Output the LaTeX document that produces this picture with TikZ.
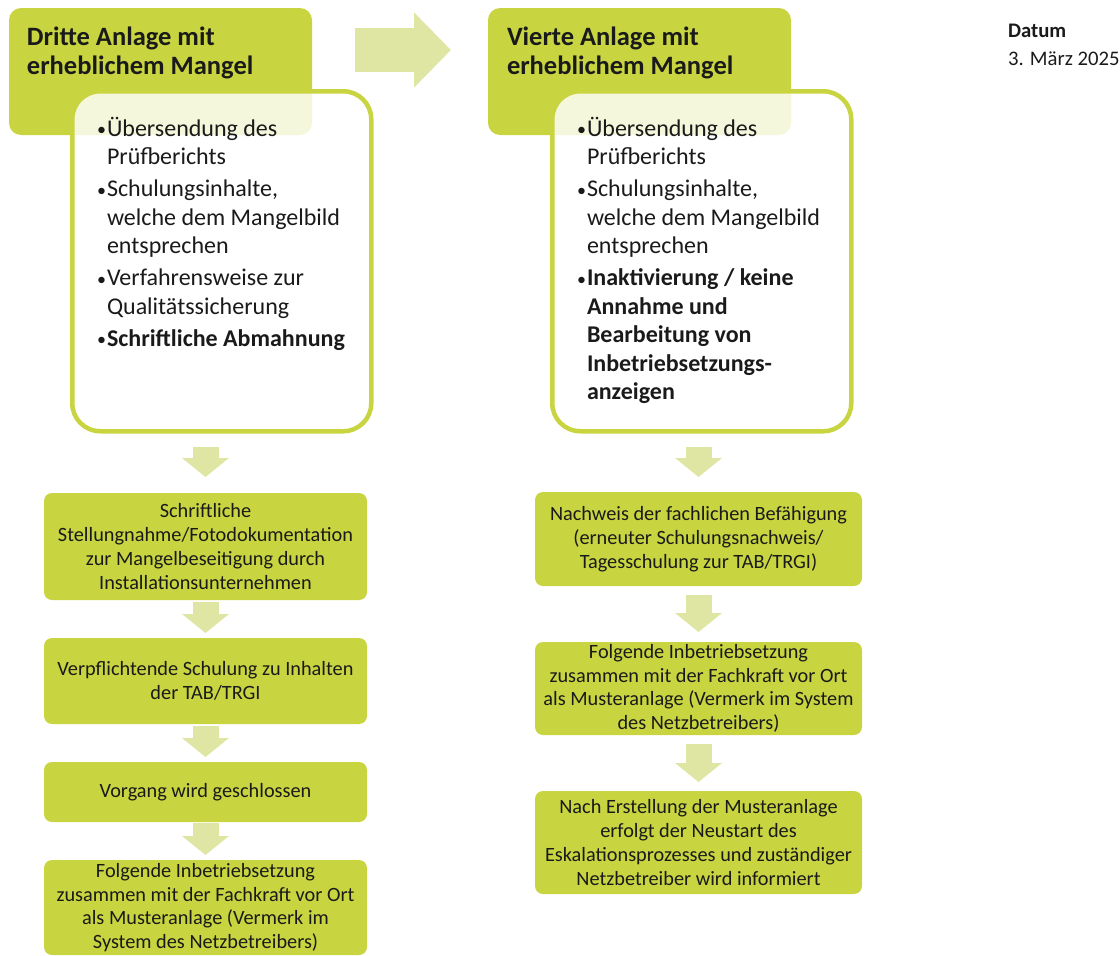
\documentclass[tikz,border=0pt]{standalone}
\usepackage{fontspec}
\setmainfont{Carlito}
\usetikzlibrary{arrows.meta,calc,positioning}

\definecolor{lime}{RGB}{200,213,64}
\definecolor{palelime}{RGB}{223,230,164}
\definecolor{ink}{RGB}{26,26,26}
\newcommand{\bitem}{\par\spaceskip=0pt\xspaceskip=0pt\hangindent=10pt\hangafter=1\noindent
  \makebox[10pt][l]{\raisebox{0.5pt}{\fontsize{18}{18}\selectfont\textbullet}}}

\begin{document}
\begin{tikzpicture}[x=1pt, y=1pt,
  every node/.style = {inner sep = 0, outer sep = 0, text = ink},
  head/.style = {rectangle, rounded corners = 12pt, fill = lime,
    minimum width = 303, minimum height = 127, anchor = north west},
  panel/.style = {rectangle, rounded corners = 28pt, draw = lime, line width = 4.5pt,
    fill = white, fill opacity = 0.82, minimum width = 299, minimum height = 340,
    anchor = north west},
  headtext/.style = {anchor = north west, align = left,
    font = \bfseries\fontsize{26.5}{29}\selectfont},
  bullets/.style = {anchor = north west, text width = 268,
    font = \fontsize{24}{28.5}\selectfont\raggedright\setlength{\parskip}{3.5pt}},
  stepbox/.style = {rectangle, rounded corners = 8pt, fill = lime, align = center,
    font = \fontsize{20.3}{23.7}\selectfont},
  flow/.style = {palelime, line width = 26pt, -{Triangle[width = 46pt, length = 19pt]}},
]
\useasboundingbox (0, 0) rectangle (1120, -956);

\node[head] (h3) at (9, -8) {};
\node[head] (h4) at (488, -8) {};
\node[headtext] (t3) at (27, -27) {Dritte Anlage mit\\erheblichem Mangel};
\node[headtext] (t4) at (507, -27) {Vierte Anlage mit\\erheblichem Mangel};
\node[panel] (p3) at (72.25, -91.25) {};
\node[panel] (p4) at (552.25, -91.25) {};

\node[bullets] (b3) at (97, -104) {%
  \bitem Übersendung des\newline Prüfberichts
  \bitem Schulungsinhalte,\newline welche dem Mangelbild\newline entsprechen
  \bitem Verfahrensweise zur\newline Qualitätssicherung
  \bitem\textbf{Schriftliche Abmahnung}\par};
\node[bullets] (b4) at (577, -104) {%
  \bitem Übersendung des\newline Prüfberichts
  \bitem Schulungsinhalte,\newline welche dem Mangelbild\newline entsprechen
  \bitem\textbf{Inaktivierung / keine\newline Annahme und\newline Bearbeitung von\newline
    Inbetriebsetzungs-\newline anzeigen}\par};

\draw[flow, line width = 44pt, -{Triangle[width = 73pt, length = 37pt]}]
  ($(h3.east)+(43, 21.5)$) -- ($(h4.west)+(-37, 21.5)$);

\node[stepbox, minimum width = 323, minimum height = 107] (l1) at (205.5, -546.5)
  {Schriftliche\\Stellungnahme/Fotodokumentation\\zur Mangelbeseitigung durch\\Installationsunternehmen};
\node[stepbox, minimum width = 323, minimum height = 86, below = 38pt of l1] (l2)
  {Verpflichtende Schulung zu Inhalten\\der TAB/TRGI};
\node[stepbox, minimum width = 323, minimum height = 60, below = 38pt of l2] (l3)
  {Vorgang wird geschlossen};
\node[stepbox, minimum width = 323, minimum height = 95, below = 38pt of l3] (l4)
  {Folgende Inbetriebsetzung\\zusammen mit der Fachkraft vor Ort\\als Musteranlage (Vermerk im\\System des Netzbetreibers)};

\node[stepbox, minimum width = 327, minimum height = 94] (r1) at (698.5, -539)
  {Nachweis der fachlichen Befähigung\\(erneuter Schulungsnachweis/\\Tagesschulung zur TAB/TRGI)};
\node[stepbox, minimum width = 327, minimum height = 93, below = 56pt of r1] (r2)
  {Folgende Inbetriebsetzung\\zusammen mit der Fachkraft vor Ort\\als Musteranlage (Vermerk im System\\des Netzbetreibers)};
\node[stepbox, minimum width = 327, minimum height = 103, below = 56pt of r2] (r3)
  {Nach Erstellung der Musteranlage\\erfolgt der Neustart des\\Eskalationsprozesses und zuständiger\\Netzbetreiber wird informiert};

\draw[flow, shorten <= 16pt, shorten >= 16pt] (p3.south -| l1.north) -- (l1);
\draw[flow, shorten <= 2pt, shorten >= 5pt] (l1) -- (l2);
\draw[flow, shorten <= 2pt, shorten >= 5pt] (l2) -- (l3);
\draw[flow, shorten <= 1pt, shorten >= 5pt] (l3) -- (l4);
\draw[flow, shorten <= 16pt, shorten >= 15pt] (p4.south -| r1.north) -- (r1);
\draw[flow, shorten <= 9pt, shorten >= 10pt] (r1) -- (r2);
\draw[flow, shorten <= 9pt, shorten >= 9pt] (r2) -- (r3);

\node[anchor = north west, align = left, font = \fontsize{20.7}{28}\selectfont] (datum)
  at (1008, -24) {\textbf{Datum}\\3. März 2025};
\end{tikzpicture}
\end{document}
